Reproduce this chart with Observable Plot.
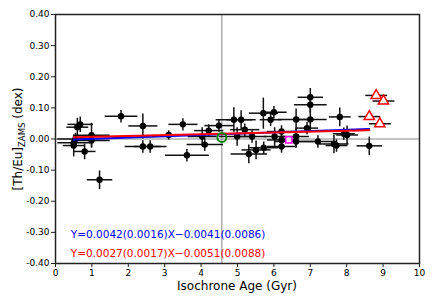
<!DOCTYPE html>
<html>
<head>
<meta charset="utf-8">
<script src="https://cdn.jsdelivr.net/npm/d3@7"></script>
<script src="https://cdn.jsdelivr.net/npm/@observablehq/plot@0.6"></script>
<style>
  html, body { margin: 0; padding: 0; background: #fff; }
  #chart svg { display: block; font-family: "DejaVu Sans", sans-serif; }
</style>
</head>
<body>
<div id="chart"></div>
<script>
// Main sample (black points)
const ages    = [0.50, 0.50, 0.55, 0.60, 0.68, 0.80, 0.99, 0.99, 1.21, 1.80, 2.40, 2.40, 2.60, 3.11, 3.50, 3.61, 4.03, 4.10, 4.21, 4.49, 4.90, 5.10, 5.20, 4.99, 5.31, 5.40, 5.51, 5.71, 5.72, 5.91, 6.00, 6.02, 6.21, 6.21, 6.21, 6.61, 6.61, 6.61, 6.91, 7.00, 7.00, 7.00, 7.21, 7.65, 7.72, 7.81, 7.92, 8.01, 8.62];
const values  = [-0.021, -0.012, 0.000, 0.038, 0.047, -0.040, 0.012, -0.005, -0.131, 0.073, 0.042, -0.024, -0.024, 0.013, 0.047, -0.052, 0.008, -0.018, 0.027, 0.043, 0.062, 0.062, 0.030, 0.008, -0.048, 0.008, -0.035, 0.083, -0.028, 0.062, 0.086, 0.008, 0.024, -0.003, -0.024, 0.063, 0.008, -0.008, 0.035, 0.134, 0.110, 0.063, -0.008, -0.016, -0.021, 0.071, 0.017, 0.013, -0.022];
const ageErr  = [0.30, 0.45, 0.50, 0.30, 0.35, 0.30, 0.50, 0.50, 0.35, 0.45, 0.40, 0.50, 0.45, 0.10, 0.40, 0.60, 0.40, 0.50, 0.40, 0.40, 0.50, 0.40, 0.40, 0.50, 0.50, 0.40, 0.40, 0.40, 0.40, 0.30, 0.35, 0.30, 0.40, 0.40, 0.40, 0.50, 0.35, 0.60, 0.30, 0.35, 0.45, 0.45, 0.50, 0.40, 0.30, 0.30, 0.30, 0.30, 0.35];
const valErr  = [0.035, 0.020, 0.020, 0.030, 0.025, 0.025, 0.040, 0.020, 0.030, 0.020, 0.040, 0.020, 0.020, 0.015, 0.020, 0.020, 0.030, 0.020, 0.020, 0.020, 0.040, 0.030, 0.020, 0.030, 0.030, 0.020, 0.030, 0.050, 0.020, 0.020, 0.020, 0.030, 0.020, 0.020, 0.020, 0.035, 0.030, 0.020, 0.020, 0.030, 0.025, 0.040, 0.020, 0.030, 0.020, 0.030, 0.020, 0.030, 0.030];

// Old stars (red open triangles)
const oldAges   = [8.62, 8.81, 8.91, 9.01];
const oldValues = [0.072, 0.140, 0.049, 0.122];
const oldAgeErr = [0.30, 0.30, 0.30, 0.30];
const oldValErr = [0.010, 0.010, 0.010, 0.010];

// Sun (green circle) and special star (magenta square)
const sunAge = [4.57], sunValue = [0.005];
const sqAge = [6.41], sqValue = [-0.003];

// Fit lines (endpoints)
const fitX = [0.50, 8.62];
const blueFitY = [-0.002, 0.032];
const redFitY = [0.006, 0.028];
const fitLabels = ["Y=0.0042(0.0016)X\u22120.0041(0.0086)", "Y=0.0027(0.0017)X\u22120.0051(0.0088)"];
const fitLabelY = [-0.308, -0.369];
const fitColors = ["blue", "red"];

// Ticks
const xTicks = [0,1,2,3,4,5,6,7,8,9,10];
const yTicks = [-0.4,-0.3,-0.2,-0.1,0,0.1,0.2,0.3,0.4];

const pts = ages.map((a,i) => ({x: a, y: values[i], xe: ageErr[i], ye: valErr[i]}));
const old = oldAges.map((a,i) => ({x: a, y: oldValues[i], xe: oldAgeErr[i], ye: oldValErr[i]}));
const blueLine = fitX.map((x,i) => ({x, y: blueFitY[i]}));
const redLine = fitX.map((x,i) => ({x, y: redFitY[i]}));
const labels = fitLabels.map((t,i) => ({t, y: fitLabelY[i], c: fitColors[i]}));

const errX = (data, stroke) => Plot.link(data, {x1: d => d.x - d.xe, x2: d => d.x + d.xe, y1: "y", y2: "y", stroke, strokeWidth: 1.5, clip: true});
const errY = (data, stroke) => Plot.link(data, {x1: "x", x2: "x", y1: d => d.y - d.ye, y2: d => d.y + d.ye, stroke, strokeWidth: 1.5, clip: true});

const plot = Plot.plot({
  width: 436,
  height: 302,
  marginLeft: 55,
  marginRight: 17,
  marginTop: 14,
  marginBottom: 39,
  style: {fontFamily: "DejaVu Sans, sans-serif", background: "white"},
  x: {domain: [0, 10]},
  y: {domain: [-0.4, 0.4]},
  marks: [
    Plot.ruleY([0], {stroke: "#888", strokeWidth: 1}),
    Plot.ruleX(sunAge, {stroke: "#888", strokeWidth: 1}),
    errX(pts, "#111"),
    errY(pts, "#111"),
    errX(old, "#111"),
    errY(old, "#111"),
    Plot.dot(pts, {x: "x", y: "y", r: 3.2, fill: "black"}),
    Plot.line(blueLine, {x: "x", y: "y", stroke: "blue", strokeWidth: 2}),
    Plot.line(redLine, {x: "x", y: "y", stroke: "red", strokeWidth: 2}),
    Plot.dot(old, {x: "x", y: "y", symbol: "triangle", r: 3.8, stroke: "red", fill: "white", strokeWidth: 1.5}),
    Plot.dot(sunAge.map((a,i)=>({x:a,y:sunValue[i]})), {x: "x", y: "y", r: 4.5, stroke: "green", fill: "none", strokeWidth: 2}),
    Plot.dot(sqAge.map((a,i)=>({x:a,y:sqValue[i]})), {x: "x", y: "y", symbol: "square", r: 3.5, stroke: "magenta", fill: "white", strokeWidth: 1.5}),
    Plot.text(labels, {x: 0.42, y: "y", text: "t", fill: "c", textAnchor: "start", fontSize: 10.5}),
    Plot.axisX(xTicks, {tickSize: 4, tickPadding: 2, fontSize: 9, label: null, stroke: "#222"}),
    Plot.axisY(yTicks, {tickSize: 4, tickPadding: 2, fontSize: 9, label: null, tickFormat: d => d.toFixed(2), stroke: "#222"}),
    Plot.frame({stroke: "#222", strokeWidth: 1.5})
  ]
});

document.getElementById("chart").appendChild(plot);
const svg = d3.select(plot);
svg.append("text")
  .attr("x", 237).attr("y", 290)
  .attr("text-anchor", "middle")
  .attr("font-size", 12)
  .attr("fill", "black")
  .text("Isochrone Age (Gyr)");
const yl = svg.append("text")
  .attr("transform", "translate(22,139) rotate(-90)")
  .attr("text-anchor", "middle")
  .attr("font-size", 12)
  .attr("fill", "black");
yl.append("tspan").text("[Th/Eu]");
yl.append("tspan").attr("font-size", 8.5).attr("dy", 3).text("ZAMS");
yl.append("tspan").attr("dy", -3).text(" (dex)");
</script>
</body>
</html>
